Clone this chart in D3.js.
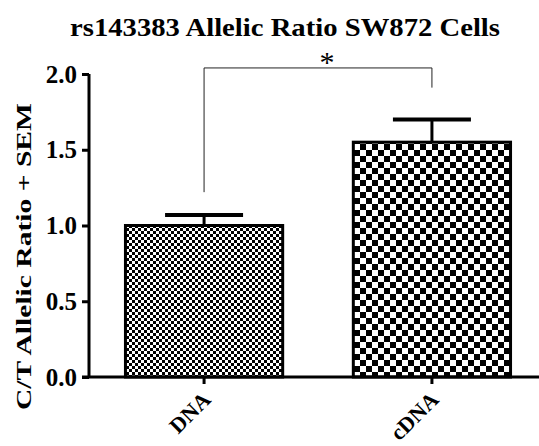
<!DOCTYPE html>
<html>
<head>
<meta charset="utf-8">
<script src="https://cdn.jsdelivr.net/npm/d3@7"></script>
<style>
  body { margin: 0; background: #fff; }
  svg { display: block; }
  text { font-family: "Liberation Serif", "Times New Roman", serif; font-weight: bold; fill: #000; }
</style>
</head>
<body>
<svg id="chart" width="539" height="446"></svg>
<script>
// data
const categories = ["DNA", "cDNA"];
const means = [1.0, 1.55];
const sems = [0.07, 0.15];
const yTicks = [0.0, 0.5, 1.0, 1.5, 2.0];
const sigLabel = "*";

const svg = d3.select("#chart");
const W = 539, H = 446;

// scales
const y = d3.scaleLinear().domain([0, 2]).range([377, 74]);
const x = d3.scaleBand().domain(categories).range([89, 547]).paddingInner(0.31).paddingOuter(0.16);

// patterns for the two bars
const defs = svg.append("defs");
const pats = [{ id: "fine", c: 3 }, { id: "coarse", c: 6 }];
pats.forEach(p => {
    const pat = defs.append("pattern")
        .attr("id", p.id)
        .attr("patternUnits", "userSpaceOnUse")
        .attr("width", p.c * 2).attr("height", p.c * 2);
    pat.append("rect").attr("width", p.c * 2).attr("height", p.c * 2).attr("fill", "#fff");
    pat.append("rect").attr("width", p.c).attr("height", p.c).attr("fill", "#000");
    pat.append("rect").attr("x", p.c).attr("y", p.c).attr("width", p.c).attr("height", p.c).attr("fill", "#000");
});

// title (original is stretched wider than the font)
svg.append("text")
    .attr("x", 70).attr("y", 36)
    .attr("font-size", 25)
    .attr("textLength", 430)
    .attr("lengthAdjust", "spacingAndGlyphs")
    .text("rs143383 Allelic Ratio SW872 Cells");

// y axis label
svg.append("text")
    .attr("transform", "translate(31,410) rotate(-90)")
    .attr("font-size", 21)
    .attr("textLength", 307)
    .attr("lengthAdjust", "spacingAndGlyphs")
    .text("C/T Allelic Ratio + SEM");

// error bars (drawn under bars so stem starts at bar top)
const eb = svg.append("g");
categories.forEach((c, i) => {
    const cx = x(c) + x.bandwidth() / 2;
    eb.append("line")
        .attr("x1", cx).attr("x2", cx)
        .attr("y1", y(means[i])).attr("y2", y(means[i] + sems[i]))
        .attr("stroke", "#000").attr("stroke-width", 3);
    eb.append("line")
        .attr("x1", cx - 39).attr("x2", cx + 39)
        .attr("y1", y(means[i] + sems[i])).attr("y2", y(means[i] + sems[i]))
        .attr("stroke", "#000").attr("stroke-width", 4);
});

// bars
svg.append("g").selectAll("rect")
    .data(categories)
    .join("rect")
    .attr("x", d => x(d))
    .attr("y", (d, i) => y(means[i]))
    .attr("width", x.bandwidth())
    .attr("height", (d, i) => y(0) - y(means[i]))
    .attr("fill", (d, i) => "url(#" + pats[i].id + ")")
    .attr("stroke", "#000")
    .attr("stroke-width", 3);

// y axis
const yAxis = svg.append("g")
    .attr("transform", "translate(89,0)")
    .call(d3.axisLeft(y).tickValues(yTicks).tickFormat(d3.format(".1f")).tickSize(7).tickPadding(5));
yAxis.select(".domain").attr("stroke-width", 3).attr("d", "M0," + y(2) + "V" + y(0));
yAxis.selectAll(".tick line").attr("stroke-width", 3);
yAxis.selectAll(".tick text").attr("font-size", 25).attr("font-family", "Liberation Serif").attr("font-weight", "bold").attr("fill", "#000");

// x axis
const xAxis = svg.append("g")
    .attr("transform", "translate(0," + y(0) + ")")
    .call(d3.axisBottom(x).tickSize(7).tickSizeOuter(0));
xAxis.select(".domain").attr("stroke-width", 3).attr("d", "M82,0H" + W);
xAxis.selectAll(".tick line").attr("stroke-width", 3);
xAxis.selectAll(".tick text")
    .attr("font-size", 22).attr("font-family", "Liberation Serif").attr("font-weight", "bold").attr("fill", "#000")
    .attr("text-anchor", "end")
    .attr("dy", null).attr("y", null)
    .attr("transform", "translate(8,24) rotate(-45)");

// significance bracket
const x0 = x(categories[0]) + x.bandwidth() / 2;
const x1 = x(categories[1]) + x.bandwidth() / 2;
svg.append("path")
    .attr("d", "M" + x0 + "," + y(1.22) + "V" + y(2.04) + "H" + x1 + "V" + y(1.91))
    .attr("fill", "none").attr("stroke", "#222").attr("stroke-width", 1);
svg.append("text")
    .attr("x", (x0 + x1) / 2 + 9).attr("y", 72)
    .attr("text-anchor", "middle")
    .attr("font-size", 30)
    .style("font-weight", "normal")
    .text(sigLabel);
</script>
</body>
</html>
